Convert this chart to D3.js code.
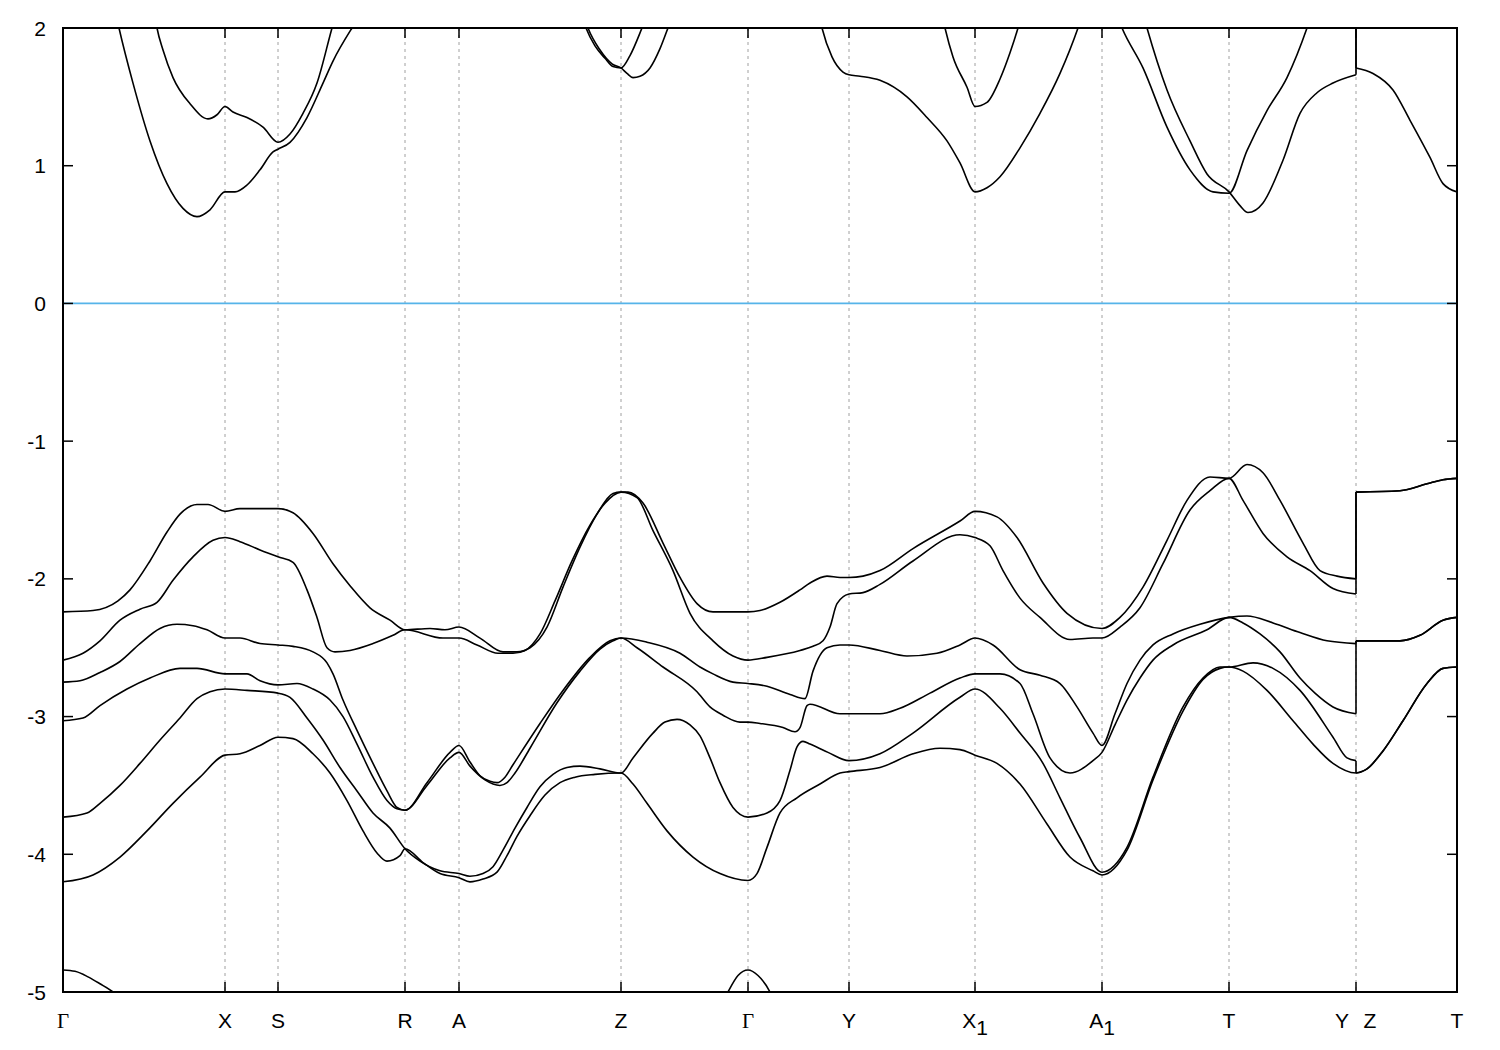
<!DOCTYPE html>
<html><head><meta charset="utf-8">
<script src="https://cdn.jsdelivr.net/npm/d3@7"></script>
<style>body{margin:0;background:#fff}</style>
</head><body><svg id="c" width="1500" height="1050"></svg>
<script>
// high-symmetry path positions (path distance, arb. units) and labels
const kTicks = [0,162,215,342,396,558,685,786,912,1039,1166,1293,1394];
const kLabels = ["Γ","X","S","R","A","Z","Γ","Y","X_1","A_1","T","Y|Z","T"];
const eTicks = [2,1,0,-1,-2,-3,-4,-5];
const eFermi = 0;

// valence bands [k, E(eV)]
const band_v1 = [[0,-2.24],[30,-2.23],[55,-2.16],[67,-2.08],[87,-1.87],[104,-1.66],[117,-1.53],[134,-1.46],[145,-1.46],[162,-1.51],[177,-1.49],[215,-1.49],[230,-1.52],[250,-1.67],[270,-1.89],[287,-2.05],[307,-2.21],[327,-2.30],[342,-2.37],[367,-2.36],[382,-2.37],[396,-2.35],[417,-2.43],[440,-2.53],[454,-2.53],[467,-2.50],[484,-2.35],[500,-2.06],[517,-1.77],[534,-1.53],[550,-1.38],[558,-1.37],[565,-1.37],[580,-1.45],[600,-1.74],[617,-1.99],[634,-2.18],[650,-2.24],[685,-2.24],[697,-2.23],[717,-2.17],[737,-2.08],[747,-2.03],[764,-1.98],[777,-1.99],[786,-1.99],[800,-1.98],[817,-1.94],[850,-1.78],[897,-1.58],[912,-1.51],[934,-1.55],[954,-1.70],[980,-2.03],[1004,-2.25],[1039,-2.36],[1057,-2.28],[1080,-2.06],[1104,-1.72],[1124,-1.43],[1147,-1.26],[1166,-1.27],[1184,-1.17],[1200,-1.23],[1217,-1.43],[1240,-1.74],[1257,-1.94],[1274,-1.98],[1293,-2.00],[1293,-1.37],[1337,-1.36],[1364,-1.31],[1380,-1.28],[1394,-1.27]];
const band_v2 = [[0,-2.59],[20,-2.54],[37,-2.45],[57,-2.30],[77,-2.22],[94,-2.17],[110,-2.01],[130,-1.84],[150,-1.72],[162,-1.70],[177,-1.73],[197,-1.79],[215,-1.84],[230,-1.88],[244,-2.08],[254,-2.28],[264,-2.50],[272,-2.53],[287,-2.52],[310,-2.47],[330,-2.41],[342,-2.37],[380,-2.43],[396,-2.43],[414,-2.48],[435,-2.54],[450,-2.54],[462,-2.52],[477,-2.40],[492,-2.16],[509,-1.87],[527,-1.61],[542,-1.45],[558,-1.37],[574,-1.41],[590,-1.65],[610,-1.94],[627,-2.25],[650,-2.45],[670,-2.56],[685,-2.59],[704,-2.57],[737,-2.52],[750,-2.49],[760,-2.45],[767,-2.35],[774,-2.18],[786,-2.11],[800,-2.10],[817,-2.04],[850,-1.87],[897,-1.68],[912,-1.70],[927,-1.76],[940,-1.94],[957,-2.14],[977,-2.28],[1007,-2.44],[1030,-2.43],[1039,-2.43],[1057,-2.35],[1077,-2.21],[1100,-1.89],[1127,-1.50],[1147,-1.36],[1166,-1.27],[1180,-1.43],[1200,-1.67],[1224,-1.84],[1247,-1.94],[1270,-2.07],[1293,-2.11],[1293,-1.37],[1337,-1.36],[1364,-1.31],[1380,-1.28],[1394,-1.27]];
const band_v3 = [[0,-2.75],[17,-2.74],[37,-2.68],[57,-2.60],[77,-2.47],[97,-2.36],[114,-2.33],[130,-2.34],[144,-2.37],[162,-2.43],[177,-2.43],[197,-2.47],[215,-2.48],[230,-2.49],[250,-2.53],[264,-2.61],[270,-2.69],[280,-2.88],[294,-3.10],[310,-3.34],[324,-3.54],[334,-3.66],[342,-3.68],[364,-3.48],[387,-3.26],[396,-3.21],[407,-3.33],[417,-3.43],[427,-3.47],[434,-3.48],[442,-3.44],[450,-3.35],[477,-3.05],[500,-2.81],[527,-2.57],[547,-2.45],[558,-2.43],[584,-2.46],[617,-2.54],[637,-2.64],[650,-2.69],[670,-2.75],[685,-2.76],[704,-2.78],[727,-2.84],[742,-2.87],[750,-2.67],[764,-2.50],[777,-2.48],[786,-2.48],[817,-2.52],[844,-2.56],[874,-2.54],[897,-2.48],[912,-2.43],[930,-2.48],[957,-2.66],[977,-2.70],[997,-2.76],[1014,-2.93],[1030,-3.12],[1039,-3.21],[1052,-2.98],[1064,-2.76],[1077,-2.59],[1090,-2.48],[1110,-2.40],[1137,-2.33],[1166,-2.28],[1184,-2.27],[1210,-2.32],[1237,-2.39],[1264,-2.45],[1293,-2.47],[1293,-2.45],[1337,-2.45],[1357,-2.41],[1380,-2.30],[1394,-2.28]];
const band_v4 = [[0,-3.03],[20,-3.01],[37,-2.92],[64,-2.80],[87,-2.72],[117,-2.65],[134,-2.65],[162,-2.69],[184,-2.69],[197,-2.74],[215,-2.77],[234,-2.76],[250,-2.80],[267,-2.88],[280,-3.00],[294,-3.20],[310,-3.44],[324,-3.61],[334,-3.67],[342,-3.68],[364,-3.50],[387,-3.30],[396,-3.26],[407,-3.36],[422,-3.46],[437,-3.50],[444,-3.48],[452,-3.41],[467,-3.23],[494,-2.90],[517,-2.67],[537,-2.51],[550,-2.45],[558,-2.43],[574,-2.50],[600,-2.64],[634,-2.82],[647,-2.93],[660,-2.99],[677,-3.04],[685,-3.04],[697,-3.05],[720,-3.08],[732,-3.11],[737,-3.08],[744,-2.92],[747,-2.91],[777,-2.98],[786,-2.98],[817,-2.98],[837,-2.94],[867,-2.83],[897,-2.72],[912,-2.69],[937,-2.69],[957,-2.76],[970,-2.98],[987,-3.30],[1007,-3.41],[1030,-3.32],[1039,-3.26],[1052,-3.06],[1064,-2.88],[1077,-2.72],[1090,-2.59],[1110,-2.48],[1144,-2.37],[1166,-2.28],[1180,-2.32],[1197,-2.40],[1217,-2.53],[1237,-2.72],[1252,-2.83],[1270,-2.93],[1293,-2.98],[1293,-2.45],[1337,-2.45],[1357,-2.41],[1380,-2.30],[1394,-2.28]];
const band_v5 = [[0,-3.73],[24,-3.70],[37,-3.63],[57,-3.50],[77,-3.34],[97,-3.17],[117,-3.01],[134,-2.87],[147,-2.82],[162,-2.80],[184,-2.81],[215,-2.83],[227,-2.86],[244,-3.01],[260,-3.17],[277,-3.37],[294,-3.54],[310,-3.70],[327,-3.81],[342,-3.96],[357,-4.05],[377,-4.12],[396,-4.14],[407,-4.16],[420,-4.14],[430,-4.09],[440,-3.97],[452,-3.81],[464,-3.66],[477,-3.51],[490,-3.42],[504,-3.37],[517,-3.36],[537,-3.38],[558,-3.41],[570,-3.30],[590,-3.12],[602,-3.04],[614,-3.02],[627,-3.06],[637,-3.14],[647,-3.30],[657,-3.48],[670,-3.66],[685,-3.73],[704,-3.70],[717,-3.61],[727,-3.39],[734,-3.22],[740,-3.18],[747,-3.20],[765,-3.26],[786,-3.32],[817,-3.27],[850,-3.12],[897,-2.86],[912,-2.80],[937,-2.94],[957,-3.12],[980,-3.34],[997,-3.59],[1017,-3.88],[1039,-4.13],[1064,-3.95],[1090,-3.44],[1120,-2.93],[1140,-2.72],[1157,-2.64],[1166,-2.64],[1190,-2.61],[1210,-2.65],[1237,-2.81],[1270,-3.15],[1284,-3.30],[1293,-3.32],[1293,-3.41],[1304,-3.38],[1320,-3.25],[1340,-3.03],[1364,-2.76],[1380,-2.65],[1394,-2.64]];
const band_v6 = [[0,-4.20],[30,-4.15],[57,-4.02],[84,-3.83],[110,-3.63],[137,-3.44],[162,-3.28],[177,-3.27],[197,-3.21],[215,-3.15],[230,-3.16],[250,-3.27],[267,-3.41],[284,-3.61],[300,-3.83],[314,-3.99],[324,-4.05],[337,-4.01],[342,-3.96],[360,-4.06],[377,-4.14],[396,-4.17],[407,-4.20],[420,-4.18],[434,-4.13],[444,-4.01],[454,-3.87],[467,-3.72],[482,-3.57],[497,-3.48],[512,-3.44],[532,-3.42],[558,-3.41],[570,-3.49],[584,-3.63],[604,-3.83],[630,-4.02],[657,-4.14],[685,-4.19],[694,-4.14],[704,-3.95],[717,-3.70],[734,-3.59],[757,-3.49],[777,-3.41],[786,-3.40],[817,-3.37],[850,-3.27],[877,-3.23],[897,-3.24],[912,-3.28],[934,-3.34],[957,-3.49],[984,-3.78],[1007,-4.02],[1030,-4.12],[1039,-4.15],[1064,-3.97],[1090,-3.46],[1120,-2.96],[1140,-2.73],[1157,-2.65],[1166,-2.64],[1180,-2.67],[1204,-2.81],[1230,-3.03],[1250,-3.20],[1270,-3.34],[1293,-3.41],[1304,-3.38],[1320,-3.25],[1340,-3.03],[1364,-2.76],[1380,-2.65],[1394,-2.64]];
// deep bands near -5 eV
const band_d1 = [[0,-4.84],[12,-4.85],[25,-4.89],[37,-4.94],[50,-5.00],[62,-5.08]];
const band_d2 = [[652,-5.20],[665,-5.00],[675,-4.88],[685,-4.84],[695,-4.88],[707,-5.00],[718,-5.20]];
// conduction bands
const band_c1 = [[52,2.13],[56,2.00],[70,1.60],[87,1.18],[104,0.87],[120,0.69],[134,0.63],[147,0.68],[162,0.81],[172,0.81],[184,0.86],[197,0.97],[210,1.10],[215,1.12],[227,1.17],[244,1.35],[260,1.60],[270,1.76],[289,2.00],[297,2.09]];
const band_c2 = [[91,2.13],[94,2.00],[100,1.84],[110,1.64],[127,1.45],[145,1.34],[154,1.37],[162,1.43],[170,1.39],[184,1.35],[200,1.28],[215,1.17],[227,1.23],[240,1.38],[254,1.60],[269,2.00],[274,2.13]];
const band_c3 = [[517,2.13],[523,2.00],[532,1.87],[542,1.78],[550,1.72],[558,1.71],[567,1.80],[579,2.00],[584,2.09]];
const band_c4 = [[519,2.13],[525,2.00],[537,1.84],[549,1.74],[558,1.71],[564,1.67],[570,1.64],[577,1.65],[587,1.71],[597,1.85],[605,2.00],[610,2.09]];
const band_c5 = [[755,2.13],[759,2.00],[769,1.79],[780,1.68],[786,1.66],[797,1.65],[817,1.62],[844,1.50],[864,1.35],[884,1.18],[897,1.02],[912,0.81],[924,0.84],[937,0.92],[957,1.13],[977,1.38],[997,1.67],[1015,2.00],[1021,2.13]];
const band_c6 = [[878,2.13],[882,2.00],[890,1.79],[904,1.57],[912,1.43],[924,1.46],[937,1.63],[947,1.82],[955,2.00],[960,2.13]];
const band_c7 = [[1052,2.13],[1059,2.00],[1080,1.71],[1104,1.28],[1127,0.97],[1150,0.81],[1166,0.80],[1184,1.11],[1204,1.40],[1224,1.64],[1244,2.00],[1250,2.13]];
const band_c8 = [[1079,2.13],[1084,2.00],[1104,1.55],[1127,1.18],[1144,0.94],[1166,0.81],[1177,0.71],[1185,0.66],[1200,0.73],[1220,1.04],[1237,1.38],[1254,1.53],[1270,1.60],[1293,1.66],[1293,2.20]];
const band_c9 = [[1293,2.20],[1293,1.71],[1310,1.67],[1330,1.55],[1347,1.33],[1367,1.06],[1380,0.87],[1394,0.81]];

const bands = [band_v1,band_v2,band_v3,band_v4,band_v5,band_v6,band_d1,band_d2,
               band_c1,band_c2,band_c3,band_c4,band_c5,band_c6,band_c7,band_c8,band_c9];

const L = 63, R = 1457, T = 28, B = 992;
const x = d3.scaleLinear().domain([kTicks[0], kTicks[kTicks.length-1]]).range([L, R]);
const y = d3.scaleLinear().domain([-5, 2]).range([B, T]);

const svg = d3.select("#c");
svg.append("defs").append("clipPath").attr("id","clip")
  .append("rect").attr("x",L).attr("y",T).attr("width",R-L).attr("height",B-T);

// dashed verticals at interior high-symmetry points
svg.append("g").selectAll("line").data(kTicks.slice(1,-1)).join("line")
  .attr("x1",d=>x(d)).attr("x2",d=>x(d)).attr("y1",T).attr("y2",B)
  .attr("stroke","#a0a0a0").attr("stroke-width",1).attr("stroke-dasharray","3,4");

// Fermi level
svg.append("line").attr("x1",L).attr("x2",R).attr("y1",y(eFermi)).attr("y2",y(eFermi))
  .attr("stroke","#56b4e9").attr("stroke-width",1.8);

// bands
const g = svg.append("g").attr("clip-path","url(#clip)");
const smooth = d3.line().x(d=>x(d[0])).y(d=>y(d[1])).curve(d3.curveMonotoneX);
const straight = d3.line().x(d=>x(d[0])).y(d=>y(d[1]));
bands.forEach(data=>{
  let seg=[data[0]];
  const segs=[], jumps=[];
  for(let i=1;i<data.length;i++){
    if(data[i][0]===data[i-1][0]){ segs.push(seg); jumps.push([data[i-1],data[i]]); seg=[data[i]]; }
    else seg.push(data[i]);
  }
  segs.push(seg);
  segs.filter(s=>s.length>1).forEach(s=>g.append("path").attr("d",smooth(s))
    .attr("fill","none").attr("stroke","#000").attr("stroke-width",1.6).attr("stroke-linejoin","round"));
  jumps.forEach(s=>g.append("path").attr("d",straight(s))
    .attr("fill","none").attr("stroke","#000").attr("stroke-width",1.6));
});

// frame
svg.append("rect").attr("x",L).attr("y",T).attr("width",R-L).attr("height",B-T)
  .attr("fill","none").attr("stroke","#000").attr("stroke-width",2);

// y ticks (both sides, inward)
const tl = 10;
eTicks.forEach(v=>{
  svg.append("line").attr("x1",L).attr("x2",L+tl).attr("y1",y(v)).attr("y2",y(v)).attr("stroke","#000").attr("stroke-width",1.5);
  svg.append("line").attr("x1",R-tl).attr("x2",R).attr("y1",y(v)).attr("y2",y(v)).attr("stroke","#000").attr("stroke-width",1.5);
  svg.append("text").attr("x",46).attr("y",y(v)).attr("dy","0.36em").attr("text-anchor","end")
    .attr("font-family","Liberation Sans, Arial, sans-serif").attr("font-size",21).text(v);
});
// x ticks (top & bottom, inward)
kTicks.slice(1,-1).forEach(k=>{
  svg.append("line").attr("x1",x(k)).attr("x2",x(k)).attr("y1",T).attr("y2",T+tl).attr("stroke","#000").attr("stroke-width",1.5);
  svg.append("line").attr("x1",x(k)).attr("x2",x(k)).attr("y1",B-tl).attr("y2",B).attr("stroke","#000").attr("stroke-width",1.5);
});
// x labels
kLabels.forEach((lab,i)=>{
  const px = x(kTicks[i]);
  const parts = lab.split("|");
  const offs = parts.length>1 ? [-14,14] : [0];
  parts.forEach((p,j)=>{
    const t = svg.append("text").attr("x",px+offs[j]).attr("y",1028).attr("text-anchor","middle")
      .attr("font-size",21);
    if(p==="Γ"){ t.attr("font-family","Liberation Serif, Times New Roman, serif").text(p); }
    else {
      t.attr("font-family","Liberation Sans, Arial, sans-serif");
      const [base,sub] = p.split("_");
      t.append("tspan").text(base);
      if(sub){ t.append("tspan").attr("dy",7).text(sub); }
    }
  });
});
</script>
</body></html>
